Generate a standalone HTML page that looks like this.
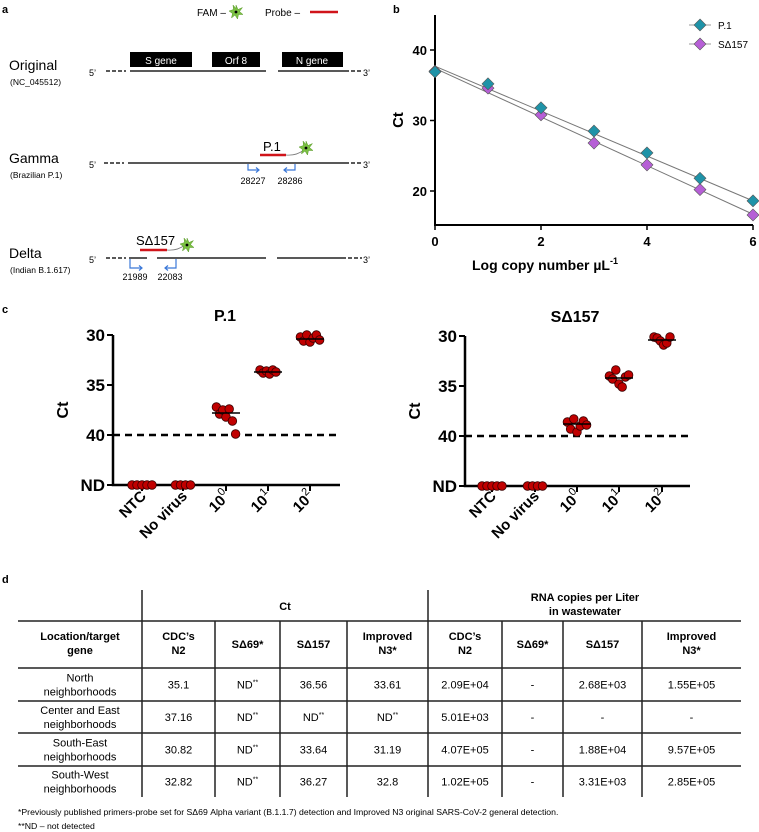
<!DOCTYPE html>
<html><head><meta charset="utf-8"><style>
html,body{margin:0;padding:0;background:#fff;}
svg{display:block;font-family:"Liberation Sans",Arial,sans-serif;}
.b{font-weight:bold;}
</style></head><body>
<svg id="fig" width="759" height="832" viewBox="0 0 759 832" xmlns="http://www.w3.org/2000/svg">
<!-- Panel a -->
<g>
<text x="2" y="13" class="b" font-size="11">a</text>
<g>
<text x="197" y="16" font-size="10">FAM –</text>
<g transform="translate(236,12)"><polygon points="0,-7 2,-2.5 6.5,-4.5 3.5,-0.5 7,2.5 2.5,2.5 1.5,7 -1,3 -4.5,6 -3.5,1.5 -7,-1 -2.5,-2.5 -3,-7 0,-3.5" fill="#7bc043" stroke="#5a9a2a" stroke-width="0.5"/><circle r="1.4" fill="#000"/></g>
<text x="265" y="16" font-size="10">Probe –</text>
<line x1="310" y1="12" x2="338" y2="12" stroke="#d0141a" stroke-width="2.5"/>
</g>
<!-- Original -->
<text x="9" y="70" font-size="14">Original</text>
<text x="10" y="85" font-size="8.5">(NC_045512)</text>
<rect x="130" y="52" width="62" height="15" fill="#000"/>
<text x="161" y="64" font-size="10" fill="#fff" text-anchor="middle">S gene</text>
<rect x="212" y="52" width="48" height="15" fill="#000"/>
<text x="236" y="64" font-size="10" fill="#fff" text-anchor="middle">Orf 8</text>
<rect x="282" y="52" width="61" height="15" fill="#000"/>
<text x="312" y="64" font-size="10" fill="#fff" text-anchor="middle">N gene</text>
<g stroke="#222" stroke-width="1.6">
<line x1="106" y1="71" x2="126" y2="71" stroke-dasharray="4,2"/><line x1="130" y1="71" x2="266" y2="71"/><line x1="278" y1="71" x2="345" y2="71"/><line x1="345" y1="71" x2="362" y2="71" stroke-dasharray="4,2"/></g>
<text x="89" y="76" font-size="9">5’</text><text x="363" y="76" font-size="9">3’</text>
<!-- Gamma -->
<text x="9" y="163" font-size="14">Gamma</text>
<text x="10" y="178" font-size="8.5">(Brazilian P.1)</text>
<g stroke="#222" stroke-width="1.6">
<line x1="104" y1="163" x2="124" y2="163" stroke-dasharray="4,2"/><line x1="128" y1="163" x2="345" y2="163"/><line x1="345" y1="163" x2="362" y2="163" stroke-dasharray="4,2"/></g>
<text x="89" y="168" font-size="9">5’</text><text x="363" y="168" font-size="9">3’</text>
<text x="263" y="151" font-size="13">P.1</text>
<line x1="260" y1="155" x2="286" y2="155" stroke="#d0141a" stroke-width="2.5"/>
<path d="M286,155 Q296,156 304,150" fill="none" stroke="#777" stroke-width="0.8"/>
<g transform="translate(306,148)"><polygon points="0,-7 2,-2.5 6.5,-4.5 3.5,-0.5 7,2.5 2.5,2.5 1.5,7 -1,3 -4.5,6 -3.5,1.5 -7,-1 -2.5,-2.5 -3,-7 0,-3.5" fill="#7bc043" stroke="#5a9a2a" stroke-width="0.5"/><circle r="1.4" fill="#000"/></g>
<g stroke="#3b78d8" stroke-width="1.2" fill="none">
<path d="M248,164 V170 H259"/><path d="M256,167.5 L259,170 L256,172.5"/>
<path d="M295,164 V170 H284"/><path d="M287,167.5 L284,170 L287,172.5"/></g>
<text x="253" y="184" font-size="9" text-anchor="middle">28227</text>
<text x="290" y="184" font-size="9" text-anchor="middle">28286</text>
<!-- Delta -->
<text x="9" y="258" font-size="14">Delta</text>
<text x="10" y="273" font-size="8.5">(Indian B.1.617)</text>
<g stroke="#222" stroke-width="1.6">
<line x1="106" y1="258" x2="126" y2="258" stroke-dasharray="4,2"/><line x1="129" y1="258" x2="147" y2="258"/><line x1="157" y1="258" x2="266" y2="258"/><line x1="277" y1="258" x2="342" y2="258"/><line x1="342" y1="258" x2="362" y2="258" stroke-dasharray="4,2"/></g>
<text x="89" y="263" font-size="9">5’</text><text x="363" y="263" font-size="9">3’</text>
<text x="136" y="245" font-size="13">SΔ157</text>
<line x1="140" y1="250" x2="167" y2="250" stroke="#d0141a" stroke-width="2.5"/>
<path d="M167,250 Q177,251 185,245" fill="none" stroke="#777" stroke-width="0.8"/>
<g transform="translate(187,245)"><polygon points="0,-7 2,-2.5 6.5,-4.5 3.5,-0.5 7,2.5 2.5,2.5 1.5,7 -1,3 -4.5,6 -3.5,1.5 -7,-1 -2.5,-2.5 -3,-7 0,-3.5" fill="#7bc043" stroke="#5a9a2a" stroke-width="0.5"/><circle r="1.4" fill="#000"/></g>
<g stroke="#3b78d8" stroke-width="1.2" fill="none">
<path d="M130,259 V268 H142"/><path d="M139,265.5 L142,268 L139,270.5"/>
<path d="M176,259 V268 H165"/><path d="M168,265.5 L165,268 L168,270.5"/></g>
<text x="135" y="280" font-size="9" text-anchor="middle">21989</text>
<text x="170" y="280" font-size="9" text-anchor="middle">22083</text>
</g>

<!-- Panel b -->
<g id="pb">
<text x="393" y="13" class="b" font-size="11">b</text>
</g>
<!-- Panel c -->
<g id="pc">
<text x="2" y="313" class="b" font-size="11">c</text>
</g>
<!-- Panel d -->
<g id="pd">
<text x="2" y="583" class="b" font-size="11">d</text>
</g>
</svg>
<script>
// ---------- Panel b data ----------
const bX = [0,1,2,3,4,5,6];
const bP1 = [36.9,35.2,31.8,28.5,25.4,21.8,18.6];
const bSD = [37.0,34.6,30.8,26.8,23.7,20.2,16.6];
const bP1Fit = [37.7,18.6];
const bSDFit = [37.4,16.7];
const bYTicks = [20,30,40];
const bXTicks = [0,2,4,6];
// ---------- Panel c data ----------
const cCats = ["NTC","No virus","10^0","10^1","10^2"];
const cP1 = [[45,45,45,45,45],[45,45,45,45],[37.2,37.9,37.5,38.2,37.4,38.6,39.9],[33.5,33.8,33.6,33.9,33.5,33.7],[30.2,30.6,30.0,30.7,30.3,30.0,30.5]];
const cP1Mean = [null,null,37.8,33.7,30.4];
const cSD = [[45,45,45,45,45],[45,45,45,45],[38.6,39.3,38.3,39.6,39.0,38.5,38.9],[34.0,34.3,33.4,34.8,35.1,34.1,33.9],[30.1,30.2,30.5,30.9,30.7,30.1]];
const cSDMean = [null,null,38.8,34.2,30.4];
const cYTicks = [30,35,40];
// ---------- Panel d data ----------
const dRows = ["North|neighborhoods","Center and East|neighborhoods","South-East|neighborhoods","South-West|neighborhoods"];
const dCt = [["35.1","ND**","36.56","33.61"],["37.16","ND**","ND**","ND**"],["30.82","ND**","33.64","31.19"],["32.82","ND**","36.27","32.8"]];
const dRNA = [["2.09E+04","-","2.68E+03","1.55E+05"],["5.01E+03","-","-","-"],["4.07E+05","-","1.88E+04","9.57E+05"],["1.02E+05","-","3.31E+03","2.85E+05"]];

const NS="http://www.w3.org/2000/svg";
function mk(tag, attrs, parent){const e=document.createElementNS(NS,tag);for(const k in attrs)e.setAttribute(k,attrs[k]);parent.appendChild(e);return e;}

// ---- Panel b ----
(function(){
const g=document.getElementById('pb');
const x=v=>435+v*53, y=v=>50+(40-v)*7.05;
const ax=mk('path',{d:'M435,15 V225 H753',fill:'none',stroke:'#000','stroke-width':2},g);


bYTicks.forEach(t=>{mk('line',{x1:430,x2:435,y1:y(t),y2:y(t),stroke:'#000','stroke-width':1.5},g);
 const tx=mk('text',{x:427,y:y(t)+5,'font-size':13,'text-anchor':'end','font-weight':'bold'},g);tx.textContent=t;
 
 });
bXTicks.forEach(t=>{mk('line',{x1:x(t),x2:x(t),y1:225,y2:230,stroke:'#000','stroke-width':1.5},g);
 const tx=mk('text',{x:x(t),y:246,'font-size':13,'text-anchor':'middle','font-weight':'bold'},g);tx.textContent=t;
 
 });
const yl=mk('text',{x:0,y:0,'font-size':15,'font-weight':'bold','text-anchor':'middle',transform:'translate(403,120) rotate(-90)'},g);yl.textContent='Ct';


const xl=mk('text',{x:545,y:270,'font-size':14,'font-weight':'bold','text-anchor':'middle'},g);
xl.innerHTML='Log copy number µL<tspan dy="-6" font-size="9">-1</tspan>';


[[bP1Fit,'p1'],[bSDFit,'sd157']].forEach(([f,n])=>{const l=mk('line',{x1:x(0),y1:y(f[0]),x2:x(6),y2:y(f[1]),stroke:'#777','stroke-width':1},g);
 
 });
function dia(cx,cy,col,parent){return mk('path',{d:`M${cx},${cy-6} L${cx+6},${cy} L${cx},${cy+6} L${cx-6},${cy} Z`,fill:col,stroke:'#555','stroke-width':0.6},parent);}
bX.forEach((v,i)=>{const p=dia(x(v),y(bSD[i]),'#b65fd6',g);
 
 });
bX.forEach((v,i)=>{const p=dia(x(v),y(bP1[i]),'#1f93a8',g);
 
 });
[['P.1','#1f93a8',25],['SΔ157','#b65fd6',44]].forEach(([t,c,yy])=>{
 const lg=mk('g',{},g);
 
 
 mk('line',{x1:689,x2:711,y1:yy,y2:yy,stroke:'#999','stroke-width':1},lg);dia(700,yy,c,lg);
 const tx=mk('text',{x:718,y:yy+4,'font-size':10},lg);tx.textContent=t;});
})();

// ---- Panel c ----
function catLabel(g,cx,label){
 const tx=mk('text',{x:0,y:0,'font-size':15,'font-weight':'bold','text-anchor':'end',transform:`translate(${cx+5},${497}) rotate(-45)`},g);
 if(label.indexOf('^')>=0){const [b,s]=label.split('^');tx.innerHTML=b+'<tspan dy="-7" font-size="11" font-weight="normal">'+s+'</tspan>';}
 else tx.textContent=label;
 
 
}
function dotPlot(ox,oy,axRight,cxs,title,titleX,data,means,nm){
 const g=document.getElementById('pc');
 const y=v=>v>=45?oy+150:oy+(v-30)*10;
 const ax=mk('path',{d:`M${ox},${oy} V${oy+150} H${axRight}`,fill:'none',stroke:'#000','stroke-width':2.5},g);
 
 
 const tl=mk('text',{x:titleX,y:oy-14,'font-size':16,'font-weight':'bold','text-anchor':'middle'},g);tl.textContent=title;
 
 
 cYTicks.concat(['ND']).forEach(t=>{const yy=t==='ND'?oy+150:y(t);
  mk('line',{x1:ox-6,x2:ox,y1:yy,y2:yy,stroke:'#000','stroke-width':2},g);
  const tx=mk('text',{x:ox-8,y:yy+6,'font-size':17,'font-weight':'bold','text-anchor':'end'},g);tx.textContent=t;
  
  });
 const yl=mk('text',{x:0,y:0,'font-size':16,'font-weight':'bold','text-anchor':'middle',transform:`translate(${ox-45},${oy+75}) rotate(-90)`},g);yl.textContent='Ct';
 
 
 const dl=mk('line',{x1:ox,x2:axRight,y1:y(40),y2:y(40),stroke:'#000','stroke-width':2.5,'stroke-dasharray':'7,5'},g);
 
 
 cxs.forEach((cx,i)=>{mk('line',{x1:cx,x2:cx,y1:oy+150,y2:oy+156,stroke:'#000','stroke-width':2},g);catLabel(g,cx,cCats[i]);});
 data.forEach((arr,i)=>{const n=arr.length;const step=arr[0]>=45?5:3.2;
  arr.forEach((v,j)=>{const c=mk('circle',{cx:cxs[i]+(j-(n-1)/2)*step,cy:y(v),r:4.3,fill:'#c00000',stroke:'#3a0000','stroke-width':0.8},g);
   
   });
  if(means[i]!=null){const m=mk('line',{x1:cxs[i]-14,x2:cxs[i]+14,y1:y(means[i]),y2:y(means[i]),stroke:'#000','stroke-width':1.5},g);
   
   }
 });
}
dotPlot(113,335,340,[142,183,226,268,310],'P.1',225,cP1,cP1Mean,'p1');
dotPlot(465,336,690,[492,535,577,619,662],'SΔ157',575,cSD,cSDMean,'sd157');

// ---- Panel d ----
(function(){
const g=document.getElementById('pd');
const cols=[18,142,215,280,347,428,502,563,642,741];
const rowsY=[621,668,701,733,766,797];
function L(x1,y1,x2,y2,w){mk('line',{x1,y1,x2,y2,stroke:'#222','stroke-width':w||1.5},g);}
L(18,621,741,621);
rowsY.slice(1,5).forEach(yy=>L(18,yy,741,yy));
L(142,590,142,797);L(428,590,428,797);
cols.slice(2,-1).forEach(x=>{if(x!==428)L(x,621,x,797);});
function T(x,y,s,bold,name){const t=mk('text',{x,y,'font-size':11,'text-anchor':'middle','font-weight':bold?'bold':'normal'},g);
 t.innerHTML=s;
 
 return t;}
T(285,610,'Ct',1,'ct-group-header');
T(585,601,'RNA copies per Liter',1,'rna-group-header');T(585,615,'in wastewater',1,'rna-group-header');
const heads=['CDC’s|N2','SΔ69*','SΔ157','Improved|N3*'];
T(80,640,'Location/target',1,'col-header');T(80,654,'gene',1,'col-header');
[0,1].forEach(k=>heads.forEach((h,i)=>{const cx=(cols[1+k*4+i]+cols[2+k*4+i])/2;const p=h.split('|');
 if(p.length>1){T(cx,640,p[0],1,'col-header');T(cx,654,p[1],1,'col-header');}else T(cx,648,p[0],1,'col-header');}));
const sup=s=>s.replace('**','<tspan dy="-4" font-size="7">**</tspan>');
dRows.forEach((r,ri)=>{const top=rowsY[ri+1],bot=rowsY[ri+2]||797;const mid=(top+bot)/2;const p=r.split('|');
 T(80,mid-3,p[0],0,'row-label');T(80,mid+11,p[1],0,'row-label');
 dCt[ri].forEach((v,i)=>T((cols[1+i]+cols[2+i])/2,mid+4,sup(v),0,'ct-cell'));
 dRNA[ri].forEach((v,i)=>T((cols[5+i]+cols[6+i])/2,mid+4,v,0,'rna-cell'));});
const f1=mk('text',{x:18,y:815,'font-size':8.7},g);f1.textContent='*Previously published primers-probe set for SΔ69 Alpha variant (B.1.1.7) detection and Improved N3 original SARS-CoV-2 general detection.';


const f2=mk('text',{x:18,y:829,'font-size':8.7},g);f2.textContent='**ND – not detected';


})();
</script>
</body></html>
